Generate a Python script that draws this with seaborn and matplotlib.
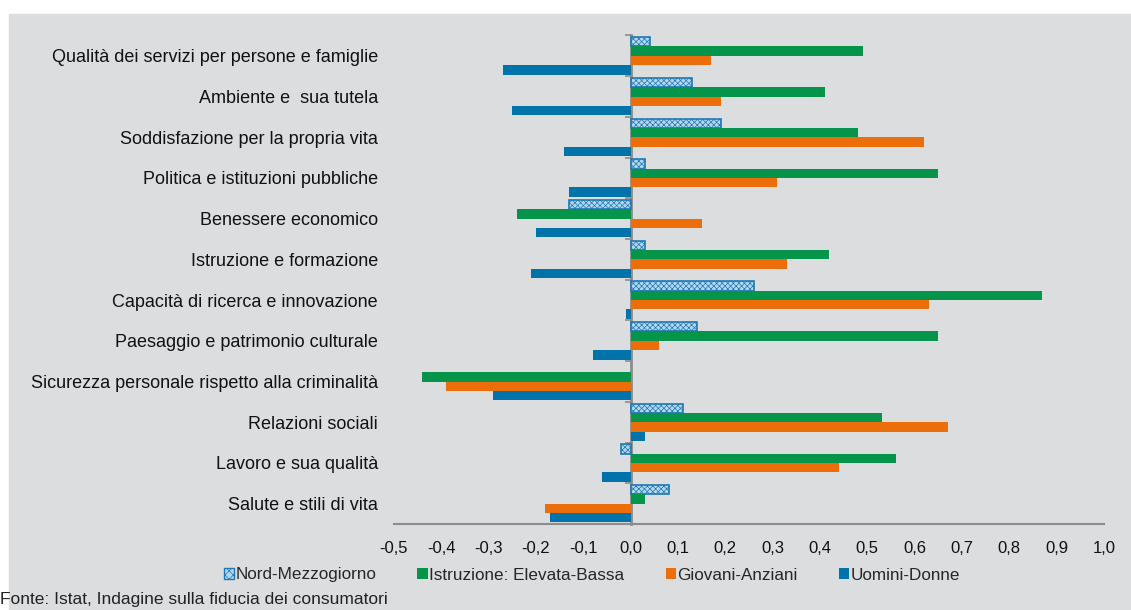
import pandas as pd
import seaborn as sns
import matplotlib.pyplot as plt
import matplotlib.patches as mpatches
from matplotlib import font_manager

categorie = [
    "Qualità dei servizi per persone e famiglie",
    "Ambiente e  sua tutela",
    "Soddisfazione per la propria vita",
    "Politica e istituzioni pubbliche",
    "Benessere economico",
    "Istruzione e formazione",
    "Capacità di ricerca e innovazione",
    "Paesaggio e patrimonio culturale",
    "Sicurezza personale rispetto alla criminalità",
    "Relazioni sociali",
    "Lavoro e sua qualità",
    "Salute e stili di vita",
]
serie = ["Nord-Mezzogiorno", "Istruzione: Elevata-Bassa", "Giovani-Anziani", "Uomini-Donne"]

nord_mezzogiorno = [0.04, 0.13, 0.19, 0.03, -0.13, 0.03, 0.26, 0.14, 0.0, 0.11, -0.02, 0.08]
istruzione = [0.49, 0.41, 0.48, 0.65, -0.24, 0.42, 0.87, 0.65, -0.44, 0.53, 0.56, 0.03]
giovani_anziani = [0.17, 0.19, 0.62, 0.31, 0.15, 0.33, 0.63, 0.06, -0.39, 0.67, 0.44, -0.18]
uomini_donne = [-0.27, -0.25, -0.14, -0.13, -0.20, -0.21, -0.01, -0.08, -0.29, 0.03, -0.06, -0.17]

x_ticks = [-0.5, -0.4, -0.3, -0.2, -0.1, 0.0, 0.1, 0.2, 0.3, 0.4, 0.5, 0.6, 0.7, 0.8, 0.9, 1.0]

colori = ["#b3d7ee", "#04944a", "#eb6e0a", "#0073ab"]
sfondo = "#dcdddf"
grigio = "#8c8c8c"

df = pd.DataFrame({
    "categoria": categorie * 4,
    "serie": [s for s in serie for _ in categorie],
    "valore": nord_mezzogiorno + istruzione + giovani_anziani + uomini_donne,
})

sns.set_style("white")
installed = {f.name for f in font_manager.fontManager.ttflist}
narrow = "Liberation Sans Narrow" if "Liberation Sans Narrow" in installed else "Liberation Sans"
plt.rcParams["font.family"] = ["Liberation Sans", "DejaVu Sans"]
plt.rcParams["hatch.linewidth"] = 0.5

fig = plt.figure(figsize=(11.31, 6.10), dpi=100)
# sfondo grigio con bordo bianco in alto e a sinistra
fig.patches.append(mpatches.Rectangle((9 / 1131, 0), 1, 1 - 14 / 610,
                                      transform=fig.transFigure, color=sfondo, zorder=-10))
ax = fig.add_axes([394 / 1131, 1 - 524 / 610, (1104 - 394) / 1131, (524 - 35.5) / 610])
ax.set_facecolor("none")

sns.barplot(data=df, y="categoria", x="valore", hue="serie", hue_order=serie,
            palette=colori, orient="h", width=0.92, dodge=True, legend=False,
            saturation=1, ax=ax, zorder=3)

for i, cont in enumerate(ax.containers):
    for bar in cont:
        if i == 0:
            bar.set_edgecolor("#1f78b4")
            bar.set_hatch("xxxxxx")
            bar.set_linewidth(1.2)
            if bar.get_width() == 0:
                bar.set_visible(False)
        else:
            bar.set_edgecolor("none")

ax.set_xlim(-0.5, 1.0)
ax.set_ylim(len(categorie) - 0.5, -0.5)
ax.set_xticks(x_ticks)
ax.set_xticklabels([f"{t:.1f}".replace(".", ",") for t in x_ticks], family=[narrow, "DejaVu Sans"],
                   fontsize=12)
ax.tick_params(axis="x", direction="out", length=5, width=1.2, color=grigio, pad=7, labelcolor="#111111")
ax.tick_params(axis="y", length=0, pad=11.5, labelsize=13, labelcolor="#111111")
ax.set_xlabel("")
ax.set_ylabel("")

for s in ["top", "right", "left"]:
    ax.spines[s].set_visible(False)
ax.spines["bottom"].set_color(grigio)
ax.spines["bottom"].set_linewidth(1.5)

# asse verticale sullo zero con tacche tra le categorie
sec = ax.secondary_yaxis(1 / 3)
sec.set_yticks([i - 0.5 for i in range(len(categorie) + 1)])
sec.set_yticklabels([])
sec.tick_params(direction="out", length=4, width=1.2, color=grigio)
sec.spines["left"].set_color(grigio)
sec.spines["left"].set_linewidth(2)

handles = []
for i, (nome, col) in enumerate(zip(serie, colori)):
    if i == 0:
        handles.append(mpatches.Patch(facecolor=col, edgecolor="#1f78b4", hatch="xxxx", label=nome))
    else:
        handles.append(mpatches.Patch(facecolor=col, edgecolor="none", label=nome))
fig.legend(handles=handles, loc="center", bbox_to_anchor=(592 / 1131, 1 - 575 / 610), ncol=4,
           frameon=False, handlelength=0.6, handleheight=0.6, handletextpad=0.1,
           columnspacing=2.4, prop={"family": [narrow, "DejaVu Sans"], "size": 12.3})

fig.text(0.0, 1 - 592 / 610, "Fonte: Istat, Indagine sulla fiducia dei consumatori",
         ha="left", va="top", fontsize=12.5, family=[narrow, "DejaVu Sans"], color="#222222")

fig.savefig("out.png", dpi=100)
